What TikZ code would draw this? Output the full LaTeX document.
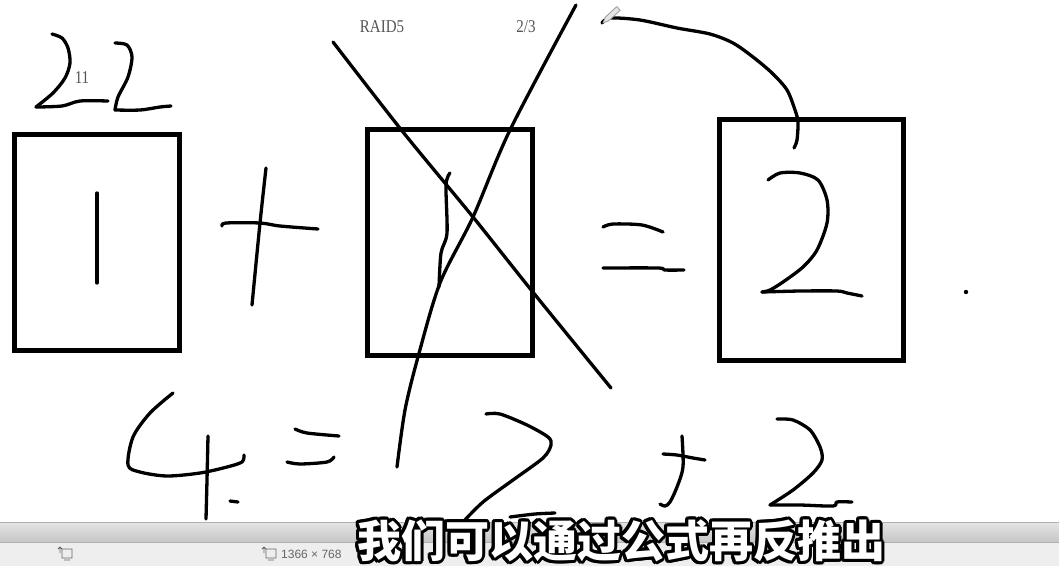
\documentclass[tikz,border=0pt]{standalone}
\usepackage{fontspec}
\setmainfont{Liberation Serif}
\newfontfamily\cjkfont{Noto Sans CJK SC}
\newfontfamily\uisans{Liberation Sans}
\definecolor{labelgray}{HTML}{555555}
\definecolor{barA}{HTML}{E4E4E4}
\definecolor{barB}{HTML}{C6C6C6}
\definecolor{barC}{HTML}{EEEEEE}
\definecolor{barline}{HTML}{B0B0B0}
\definecolor{icongray}{HTML}{666666}
\newcommand{\subtext}{我们可以通过公式再反推出}
\begin{document}
\begin{tikzpicture}[x=1pt,y=-1pt,
  hand/.style={line width=3.3pt, line cap=round, line join=round},
  boxline/.style={line width=5pt, line join=miter},
  smalllabel/.style={text=labelgray, font=\fontsize{15}{15}\selectfont, inner sep=0pt, yscale=1.2},
  subtitle/.style={font=\cjkfont\bfseries\fontsize{44}{44}\selectfont, inner sep=0pt}]
\useasboundingbox (0,0) rectangle (1059,566);
\fill[white] (0,0) rectangle (1059,566);

% boxes
\draw[boxline] (14.5,134.5) rectangle (179.5,350.5);
\draw[boxline] (367.5,129.5) rectangle (532.5,355.5);
\draw[boxline] (719.5,119.5) rectangle (903.5,360.5);

% digit 1 in first box
\draw[hand] (97,193) -- (97,283);
% plus
\draw[hand] plot[smooth] coordinates {(266,168) (260,223) (252,305)};
\draw[hand] plot[smooth] coordinates {(222,226) (226,223) (260,223) (280,226) (318,229)};
% digit 1 in second box
\draw[hand] plot[smooth] coordinates {(450,173) (446,185) (447,233) (441,253) (439,287)};
% cross lines
\draw[hand] plot[smooth] coordinates {(333,42) (403,132) (473,217) (532,291) (611,388)};
\draw[hand] plot[smooth] coordinates {(576,5) (510,130) (473,217) (440,283) (418,357) (405,410) (397,467)};
% equals
\draw[hand] plot[smooth] coordinates {(603,227) (613,224) (642,225) (663,232)};
\draw[hand] plot[smooth] coordinates {(603,268) (658,268) (665,270) (684,270)};
% digit 2 in third box
\draw[hand] plot[smooth] coordinates {(768,180) (780,173) (800,173) (818,180) (827,200) (827,223) (817,250) (803,267) (783,282) (770,290) (762,292)};
\draw[hand] plot[smooth] coordinates {(762,292) (800,291) (837,291) (847,293) (862,296)};
% dot
\fill (966,292) circle (2.2);
% curved stroke from pencil
\draw[hand] plot[smooth] coordinates {(602,23) (610,18) (640,20) (677,28) (710,34) (733,43) (753,57) (772,73) (787,90) (795,110) (798,122) (797,140) (794,148)};
% pencil cursor
\filldraw[fill=gray!20, draw=gray!75, line width=0.9pt, line join=round] (603,23) -- (605.3,17.2) -- (616.8,6.6) -- (620.2,10.2) -- (608.7,20.8) -- cycle;

% handwritten 22
\draw[hand] plot[smooth] coordinates {(52,34) (62,38) (68,48) (70,63) (65,78) (53,93) (36,107)};
\draw[hand] plot[smooth] coordinates {(36,107) (62,106) (80,101) (108,101)};
\draw[hand] plot[smooth] coordinates {(115,43) (127,45) (132,57) (128,77) (118,97) (115,110)};
\draw[hand] plot[smooth] coordinates {(115,110) (140,110) (160,107) (171,106)};

% labels
\node[smalllabel] (l11) at (82,78) {11};
\node[smalllabel] (lraid) at (382,27) {RAID5};
\node[smalllabel] (lfrac) at (526,27) {2/3};

% bottom row: 4 = 2 + 2
\draw[hand] plot[smooth] coordinates {(173,393) (150,413) (133,437) (128,465) (140,472) (167,476) (200,473) (227,467) (242,462) (244,455)};
\draw[hand] plot[smooth] coordinates {(208,436) (207,480) (206,519)};
\draw[hand] (230,501) -- (238,502);
\draw[hand] plot[smooth] coordinates {(295,429) (307,433) (339,436)};
\draw[hand] plot[smooth] coordinates {(287,462) (300,464) (327,462) (334,457)};
\draw[hand] plot[smooth] coordinates {(486,414) (500,414) (527,425) (548,437) (551,445) (543,458) (513,480) (483,502) (463,522)};
\draw[hand] plot[smooth] coordinates {(510,517) (535,514) (555,513)};
\draw[hand] plot[smooth] coordinates {(682,436) (683,467) (677,487) (670,502) (665,506) (660,504)};
\draw[hand] plot[smooth] coordinates {(663,454) (677,455) (693,458) (705,460)};
\draw[hand] plot[smooth] coordinates {(777,419) (793,420) (810,430) (820,447) (822,460) (813,473) (793,490) (770,505)};
\draw[hand] plot[smooth] coordinates {(770,505) (800,505) (833,506) (837,502) (852,502)};

% status bar
\shade[top color=barA, bottom color=barB] (0,522) rectangle (1059,542);
\fill[barC] (0,542) rectangle (1059,566);
\draw[barline, line width=1pt] (0,522) -- (1059,522);
\draw[barline, line width=0.6pt] (0,542) -- (1059,542);
\draw[icongray, line width=0.8pt] (62,549) rectangle (72,558) (60,547) -- (60,553) (58,549) -- (60,547) -- (62,549) (64,560) -- (70,560);
\draw[icongray, line width=0.8pt] (266,549) rectangle (276,558) (264,547) -- (264,553) (262,549) -- (264,547) -- (266,549) (268,560) -- (274,560);
\node[anchor=west, text=icongray, font=\uisans\fontsize{12}{12}\selectfont, inner sep=0pt] (res) at (281,554) {1366 × 768};

% subtitle: white text with black outline (ring of black copies under white)
\foreach \a in {0,22.5,...,337.5}{
  \node[subtitle, text=black] at ([shift={(\a:3pt)}]621,541) {\subtext};
}
\node[subtitle, text=white] (sub) at (621,541) {\subtext};
\end{tikzpicture}
\end{document}
